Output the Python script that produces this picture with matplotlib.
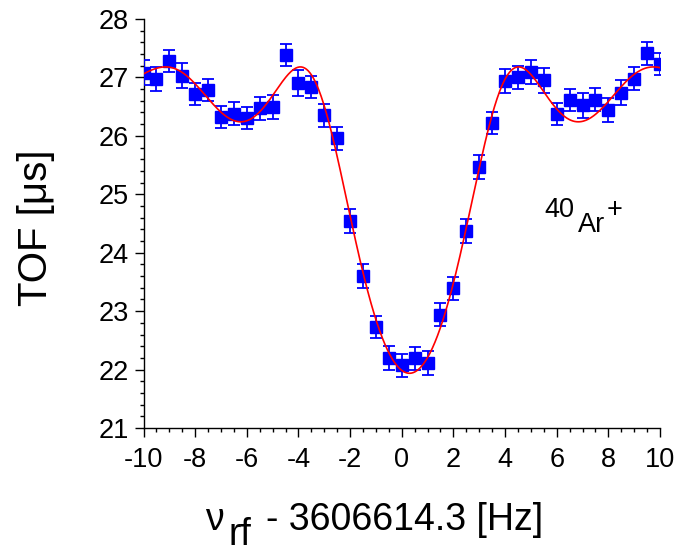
import numpy as np
import matplotlib
matplotlib.use('Agg')
import matplotlib.pyplot as plt
from matplotlib.ticker import MultipleLocator

plt.rcParams['font.family'] = ['Liberation Sans', 'DejaVu Sans']
plt.rcParams['axes.unicode_minus'] = False

# Detuning from the cyclotron frequency [Hz]
freq = [-10, -9.5, -9, -8.5, -8, -7.5, -7, -6.5, -6, -5.5, -5, -4.5, -4, -3.5,
        -3, -2.5, -2, -1.5, -1, -0.5, 0, 0.5, 1, 1.5, 2, 2.5, 3, 3.5, 4, 4.5,
        5, 5.5, 6, 6.5, 7, 7.5, 8, 8.5, 9, 9.5, 10]

# Mean time of flight [us]
tof = [27.08, 26.97, 27.28, 27.03, 26.72, 26.78, 26.32, 26.38, 26.31, 26.47,
       26.49, 27.39, 26.91, 26.83, 26.35, 25.96, 24.54, 23.60, 22.73, 22.20,
       22.07, 22.19, 22.11, 22.94, 23.39, 24.37, 25.47, 26.22, 26.94, 27.00,
       27.09, 26.95, 26.37, 26.62, 26.52, 26.62, 26.44, 26.74, 26.98, 27.41,
       27.23]

tof_err = [0.21, 0.21, 0.19, 0.21, 0.19, 0.19, 0.19, 0.20, 0.19, 0.20, 0.21,
           0.19, 0.22, 0.19, 0.20, 0.20, 0.21, 0.21, 0.19, 0.21, 0.19, 0.20,
           0.20, 0.20, 0.20, 0.21, 0.21, 0.19, 0.20, 0.19, 0.21, 0.21, 0.19,
           0.19, 0.21, 0.20, 0.20, 0.21, 0.20, 0.19, 0.19]

# Fit parameters of the quadrupole resonance line shape
nu0 = 0.3        # centre offset [Hz]
t_rf = 0.205     # excitation time [s]
tof_base = 27.18  # off-resonance TOF [us]
k_conv = 1.15
p_conv = 0.28


def tof_model(nu):
    # conversion probability for a full-conversion pi-pulse
    x2 = (2 * t_rf * (nu - nu0)) ** 2
    conv = np.sin(np.pi / 2 * np.sqrt(1 + x2)) ** 2 / (1 + x2)
    return tof_base * (1 + k_conv * conv) ** (-p_conv)


W, H = 678, 552
fig = plt.figure(figsize=(W / 100, H / 100), dpi=100)
ax = fig.add_axes([143.5 / W, 1 - 428 / H, (660 - 143.5) / W, (428 - 19) / H])

nu_fit = np.linspace(-10, 10, 600)
ax.plot(nu_fit, tof_model(nu_fit), color='#ff0000', lw=1.2, zorder=4)
ax.errorbar(freq, tof, yerr=tof_err, fmt='s', color='#0000ff', ms=9,
            elinewidth=1.3, capsize=4.5, capthick=1.3, zorder=3)

ax.set_xlim(-10, 10)
ax.set_ylim(21, 28)
ax.xaxis.set_major_locator(MultipleLocator(2))
ax.xaxis.set_minor_locator(MultipleLocator(0.5))
ax.yaxis.set_major_locator(MultipleLocator(1))
ax.yaxis.set_minor_locator(MultipleLocator(0.2))

for side in ['top', 'right']:
    ax.spines[side].set_visible(False)
for side in ['left', 'bottom']:
    ax.spines[side].set_linewidth(1.0)

ax.tick_params(which='major', direction='out', length=6.5, width=1.0,
               labelsize=19.5)
ax.tick_params(which='minor', direction='out', length=3.2, width=1.0)
ax.tick_params(axis='x', which='major', pad=7)
ax.tick_params(axis='y', which='major', pad=4)

ax.set_ylabel('TOF [\u03bcs]', fontsize=29)
ax.yaxis.set_label_coords(-0.172, 0.49)

# ion label: full-size raised mass number and charge
ax.text(5.54, 24.615, '40', fontsize=19.5, va='baseline')
ax.text(6.82, 24.36, 'Ar', fontsize=19.5, va='baseline')
ax.text(7.92, 24.615, '+', fontsize=19.5, va='baseline')

# x-axis label built from pieces so the subscript stays full size
fig.text(205 / W, 1 - 530 / H, '\u03bd', fontsize=27, va='baseline')
fig.text(228 / W, 1 - 545 / H, 'rf', fontsize=27, va='baseline')
fig.text(266 / W, 1 - 530 / H, '- 3606614.3 [Hz]', fontsize=27,
         va='baseline')

fig.savefig('out.png', dpi=100)
